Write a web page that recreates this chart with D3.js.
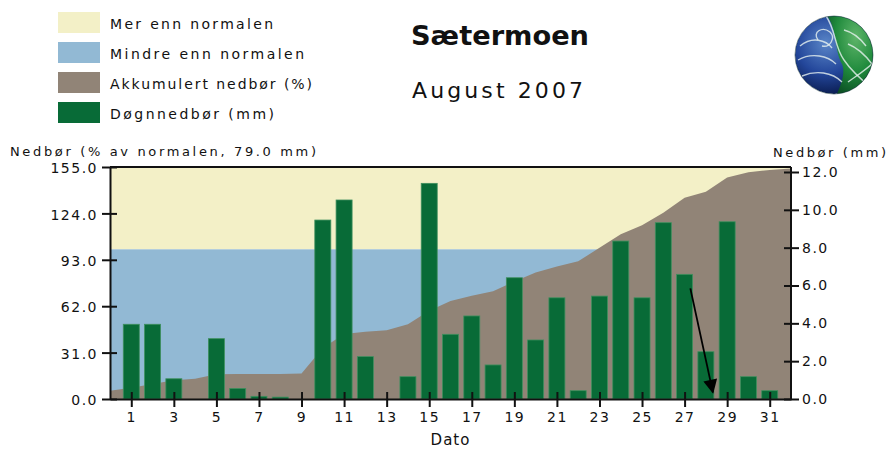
<!DOCTYPE html>
<html>
<head>
<meta charset="utf-8">
<script src="https://cdn.jsdelivr.net/npm/d3@7"></script>
<style>
  body { margin: 0; background: #fff; }
  text { font-family: "DejaVu Sans", Verdana, sans-serif; fill: #111; }
</style>
</head>
<body>
<svg id="chart" width="889" height="449"></svg>
<script>
// days of August 2007
const days = [1,2,3,4,5,6,7,8,9,10,11,12,13,14,15,16,17,18,19,20,21,22,23,24,25,26,27,28,29,30,31];
// daily precipitation (mm), right axis
const dailyMm = [3.95,3.95,1.07,0,3.19,0.56,0.14,0.1,0,9.46,10.52,2.24,0,1.18,11.4,3.42,4.39,1.8,6.41,3.12,5.35,0.44,5.44,8.35,5.35,9.32,6.59,2.5,9.37,1.18,0.44];
// accumulated precipitation (% of normal), sampled along the day axis (0 = left edge, 32 = right edge)
const accumPos = [0,1,2,3,4,5,6,7,8,9,10,11,12,13,14,15,16,17,18,19,20,21,22,23,24,25,26,27,28,29,30,31,32];
const accumPct = [5.5,7.5,10,12.5,13.5,16.5,16.7,16.7,16.7,17,34,43.5,45,46,50,59,65.5,69,72,78.5,84.5,88.5,92,101,110,116,124.5,134.5,138.5,148,151.5,153,154];
const leftTicks = [0,31,62,93,124,155];
const rightTicks = [0,2,4,6,8,10,12];
const bottomTicks = [1,3,5,7,9,11,13,15,17,19,21,23,25,27,29,31];
const normalPct = 100;

const legendItems = [
  { label: "Mer enn normalen", color: "#f3f0c7", len: 163 },
  { label: "Mindre enn normalen", color: "#92b9d4", len: 194 },
  { label: "Akkumulert nedbør (%)", color: "#918477", len: 202 },
  { label: "Døgnnedbør (mm)", color: "#086b37", len: 164 }
];

const svg = d3.select("#chart");
const plot = { left: 110, right: 791, top: 167, bottom: 399 };

const x = d3.scaleLinear().domain([0, 32]).range([plot.left, plot.right]);
const yL = d3.scaleLinear().domain([0, 155]).range([plot.bottom, plot.top]);
const yR = d3.scaleLinear().domain([0, 12]).range([plot.bottom, 172]);

// legend
const legend = svg.append("g");
legendItems.forEach((d, i) => {
  legend.append("rect")
    .attr("x", 58).attr("y", 12 + i * 30)
    .attr("width", 42).attr("height", 21)
    .attr("fill", d.color);
  legend.append("text")
    .attr("x", 110).attr("y", 29 + i * 30)
    .attr("textLength", d.len)
    .attr("lengthAdjust", "spacing")
    .style("font-size", "14px")
    .text(d.label);
});

// title
svg.append("text")
  .attr("x", 411).attr("y", 45)
  .attr("textLength", 178).attr("lengthAdjust", "spacingAndGlyphs")
  .style("font-size", "27px").style("font-weight", "bold")
  .text("Sætermoen");
svg.append("text")
  .attr("x", 412).attr("y", 98)
  .attr("textLength", 171).attr("lengthAdjust", "spacing")
  .style("font-size", "22px")
  .text("August 2007");

// logo
const defs = svg.append("defs");
const g1 = defs.append("radialGradient").attr("id", "logoBlue")
  .attr("cx", "40%").attr("cy", "35%").attr("r", "65%");
g1.append("stop").attr("offset", "0%").attr("stop-color", "#5a86c8");
g1.append("stop").attr("offset", "60%").attr("stop-color", "#23469a");
g1.append("stop").attr("offset", "100%").attr("stop-color", "#0c1f55");
const g2 = defs.append("radialGradient").attr("id", "logoGreen")
  .attr("cx", "55%").attr("cy", "30%").attr("r", "70%");
g2.append("stop").attr("offset", "0%").attr("stop-color", "#5fb56a");
g2.append("stop").attr("offset", "55%").attr("stop-color", "#1f8a3c");
g2.append("stop").attr("offset", "100%").attr("stop-color", "#0b4a22");
defs.append("clipPath").attr("id", "logoClip")
  .append("circle").attr("cx", 834).attr("cy", 55).attr("r", 39);

const logo = svg.append("g").attr("clip-path", "url(#logoClip)");
logo.append("circle").attr("cx", 834).attr("cy", 55).attr("r", 39).attr("fill", "url(#logoBlue)");
logo.append("path")
  .attr("d", "M826,14 C838,30 834,50 842,64 C846,74 840,88 834,100 L880,100 L880,10 Z")
  .attr("fill", "url(#logoGreen)");
const swirl = [
  "M826,16 C836,30 834,46 844,60 C852,72 864,82 874,90",
  "M818,40 C812,32 822,26 830,32 C836,38 830,48 822,46",
  "M800,46 C812,36 826,40 832,48",
  "M798,60 C812,52 828,56 836,64",
  "M802,76 C816,70 832,72 842,82",
  "M844,30 C852,32 860,38 866,46",
  "M848,44 C858,48 866,56 872,64",
  "M848,82 C856,76 866,70 874,62"
];
swirl.forEach(d => {
  logo.append("path").attr("d", d)
    .attr("fill", "none").attr("stroke", "#e8f2f0")
    .attr("stroke-width", 1.4).attr("opacity", 0.8);
});
svg.append("circle").attr("cx", 834).attr("cy", 55).attr("r", 39)
  .attr("fill", "none").attr("stroke", "#0b2a30").attr("stroke-width", 1).attr("opacity", 0.5);

// plot background zones
svg.append("rect")
  .attr("x", plot.left).attr("y", yL(155))
  .attr("width", plot.right - plot.left).attr("height", yL(normalPct) - yL(155))
  .attr("fill", "#f3f0c7");
svg.append("rect")
  .attr("x", plot.left).attr("y", yL(normalPct))
  .attr("width", plot.right - plot.left).attr("height", yL(0) - yL(normalPct))
  .attr("fill", "#92b9d4");

// accumulated area
const accum = accumPos.map((p, i) => ({ p, v: accumPct[i] }));
svg.append("path")
  .datum(accum)
  .attr("fill", "#918477")
  .attr("d", d3.area()
    .x(d => x(d.p))
    .y0(yL(0))
    .y1(d => yL(d.v)));

// daily bars
const barW = 16;
svg.append("g").selectAll("rect")
  .data(days.map((d, i) => ({ d, v: dailyMm[i] })).filter(e => e.v > 0))
  .join("rect")
  .attr("x", e => x(e.d) - barW / 2)
  .attr("y", e => yR(e.v))
  .attr("width", barW)
  .attr("height", e => yR(0) - yR(e.v))
  .attr("fill", "#086b37")
  .attr("stroke", "#3f8f5e")
  .attr("stroke-width", 0.8);

// top border
svg.append("line")
  .attr("x1", plot.left).attr("x2", plot.right)
  .attr("y1", plot.top).attr("y2", plot.top)
  .attr("stroke", "#111").attr("stroke-width", 2);

// axes
function styleAxis(g, inner) {
  g.select(".domain").attr("stroke", "#111").attr("stroke-width", 2);
  g.selectAll(".tick line").attr("stroke", "#111").attr("stroke-width", 2);
  g.selectAll(".tick").append("line")
    .attr("x2", inner[0]).attr("y2", inner[1])
    .attr("stroke", "#111").attr("stroke-width", 2);
  g.selectAll(".tick text")
    .style("font-family", "DejaVu Sans, sans-serif")
    .style("font-size", "14px")
    .style("letter-spacing", "1.5px")
    .attr("fill", "#111");
}

const axL = svg.append("g")
  .attr("transform", `translate(${plot.left},0)`)
  .call(d3.axisLeft(yL).tickValues(leftTicks).tickFormat(d3.format(".1f")).tickSizeInner(8).tickSizeOuter(0).tickPadding(4));
styleAxis(axL, [7, 0]);
axL.selectAll(".tick text").attr("dy", "0.4em");

const axR = svg.append("g")
  .attr("transform", `translate(${plot.right},0)`)
  .call(d3.axisRight(yR).tickValues(rightTicks).tickFormat(d3.format(".1f")).tickSizeInner(8).tickSizeOuter(0).tickPadding(3));
styleAxis(axR, [-7, 0]);
axR.select(".domain").attr("d", `M0,${plot.top}V${plot.bottom}`);

const axB = svg.append("g")
  .attr("transform", `translate(0,${plot.bottom})`)
  .call(d3.axisBottom(x).tickValues(bottomTicks).tickFormat(d3.format("d")).tickSizeInner(8).tickSizeOuter(0).tickPadding(5));
styleAxis(axB, [0, -7]);

// axis titles
svg.append("text")
  .attr("x", 10).attr("y", 156)
  .attr("textLength", 306).attr("lengthAdjust", "spacing")
  .style("font-size", "13px")
  .text("Nedbør (% av normalen, 79.0 mm)");
svg.append("text")
  .attr("x", 773).attr("y", 157)
  .attr("textLength", 113).attr("lengthAdjust", "spacing")
  .style("font-size", "13px")
  .text("Nedbør (mm)");
svg.append("text")
  .attr("x", x(16)).attr("y", 445)
  .attr("text-anchor", "middle")
  .style("font-size", "15px")
  .style("letter-spacing", "1px")
  .text("Dato");

// arrow annotation
defs.append("marker").attr("id", "arrowHead")
  .attr("viewBox", "0 0 10 10").attr("refX", 9).attr("refY", 5)
  .attr("markerWidth", 16).attr("markerHeight", 14)
  .attr("markerUnits", "userSpaceOnUse")
  .attr("orient", "auto")
  .append("path").attr("d", "M0,0 L10,5 L0,10 Z").attr("fill", "#000");
svg.append("line")
  .attr("x1", x(27.27)).attr("y1", yR(5.85))
  .attr("x2", x(28.33)).attr("y2", yR(0.35))
  .attr("stroke", "#000").attr("stroke-width", 1.8)
  .attr("marker-end", "url(#arrowHead)");
</script>
</body>
</html>
